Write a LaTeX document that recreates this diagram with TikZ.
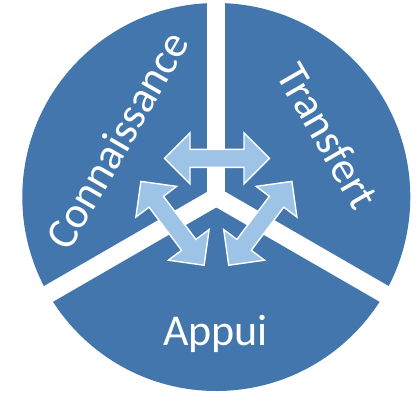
\documentclass[tikz,border=0pt]{standalone}
\usepackage{fontspec}
\setmainfont{Carlito}
\definecolor{secblue}{RGB}{66,118,172}
\definecolor{arrblue}{RGB}{157,195,230}
\tikzset{
  dblarrow/.style={fill=arrblue,draw=white,line width=1.4pt,line join=miter},
  gapline/.style={draw=white,line width=18pt},
  lbl/.style={text=white,font=\fontsize{44}{50}\selectfont,inner sep=0pt},
  dbl/.pic={\draw[dblarrow] (-52.5,0) -- (-27,-25.5) -- (-27,-9) -- (27,-9) -- (27,-25.5) -- (52.5,0) -- (27,25.5) -- (27,9) -- (-27,9) -- (-27,25.5) -- cycle;}
}
\begin{document}
\begin{tikzpicture}[x=1pt,y=-1pt]
\useasboundingbox (0,0) rectangle (416,394);
\coordinate (c) at (216.3,197);
\fill[secblue] (c) circle[radius=194pt];
\foreach \a in {90,210,330} \draw[gapline] (c) -- ++(\a:215pt);
\pic[rotate=0] at (217,158.4) {dbl};
\pic[rotate=-53] at (172.5,223.3) {dbl};
\pic[rotate=53] at (260.3,223.3) {dbl};
\node[lbl,rotate=60] (conn) at (117,140) {Connaissance};
\node[lbl,rotate=-60] (trans) at (328,136) {Transfert};
\node[lbl,anchor=base] (appui) at (215.5,345) {Appui};
\end{tikzpicture}
\end{document}
